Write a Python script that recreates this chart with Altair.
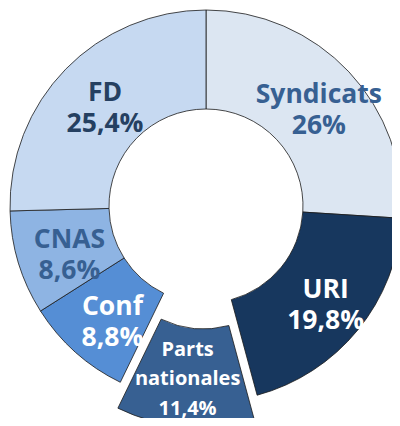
import math
import altair as alt
import pandas as pd

# ---- data ----
categories = ["Syndicats", "URI", "Parts nationales", "Conf", "CNAS", "FD"]
values = [26, 19.8, 11.4, 8.8, 8.6, 25.4]

# ---- styles ----
fill_colors = ["#DCE6F2", "#17375E", "#376092", "#558ED5", "#8EB4E3", "#C6D9F1"]
label_colors = ["#376092", "#FFFFFF", "#FFFFFF", "#FFFFFF", "#376092", "#254061"]
exploded = "Parts nationales"
explode_px = 26
outer_r = 196
inner_r = 97
label_r = 148
main_size, main_lh = 26.5, 31
ex_size, ex_lh = 20, 29.5
main_nudge = (5, 6)
ex_nudge = (-2, 0)

df = pd.DataFrame({"name": categories, "value": values, "order": list(range(len(categories)))})

# direction of the exploded slice (mid angle, clockwise from 12 o'clock)
idx = categories.index(exploded)
total = sum(values)
mid_frac = (sum(values[:idx]) + values[idx] / 2) / total
ang = 2 * math.pi * mid_frac
ex_dx = explode_px * math.sin(ang)
ex_dy = -explode_px * math.cos(ang)

theta_scale = alt.Scale(domain=[0, 100], range=[0, 2 * math.pi])

base = (
    alt.Chart(df)
    .transform_window(cum="sum(value)", sort=[{"field": "order"}], frame=[None, 0])
    .transform_calculate(
        start="datum.cum - datum.value",
        mid="datum.cum - datum.value / 2",
        label="replace(datum.name, ' ', '|') + '|' + replace(format(datum.value, '.1~f'), '.', ',') + '%'",
    )
)

fill_enc = alt.Color("name:N", scale=alt.Scale(domain=categories, range=fill_colors), legend=None)
text_enc = alt.Color("name:N", scale=alt.Scale(domain=categories, range=label_colors), legend=None)

arc_props = dict(outerRadius=outer_r, innerRadius=inner_r, stroke="#1a1a1a", strokeWidth=0.8)

arcs = base.transform_filter(f"datum.name != '{exploded}'").mark_arc(**arc_props).encode(
    theta=alt.Theta("start:Q", scale=theta_scale, stack=None),
    theta2="cum:Q",
    color=fill_enc,
)

arc_ex = base.transform_filter(f"datum.name == '{exploded}'").mark_arc(
    xOffset=ex_dx, yOffset=ex_dy, **arc_props
).encode(
    theta=alt.Theta("start:Q", scale=theta_scale, stack=None),
    theta2="cum:Q",
    color=fill_enc,
)

labels = base.transform_filter(f"datum.name != '{exploded}'").mark_text(
    radius=label_r, font="Open Sans", fontWeight="bold", fontSize=main_size,
    lineBreak="|", lineHeight=main_lh, align="center", baseline="middle",
    dx=main_nudge[0], dy=-main_lh / 2 + main_nudge[1],
).encode(
    theta=alt.Theta("mid:Q", scale=theta_scale, stack=None),
    text="label:N",
    color=text_enc,
)

label_ex = base.transform_filter(f"datum.name == '{exploded}'").mark_text(
    radius=label_r, font="Open Sans", fontWeight="bold", fontSize=ex_size,
    lineBreak="|", lineHeight=ex_lh, align="center", baseline="middle",
    dx=ex_dx + ex_nudge[0], dy=ex_dy - ex_lh + ex_nudge[1],
).encode(
    theta=alt.Theta("mid:Q", scale=theta_scale, stack=None),
    text="label:N",
    color=text_enc,
)

chart = (
    alt.layer(arcs, arc_ex, labels, label_ex)
    .resolve_scale(color="independent")
    .properties(
        width=372,
        height=396,
        padding={"left": 12, "top": 0, "right": 0, "bottom": 14},
        autosize="none",
        background="white",
    )
    .configure_view(stroke=None)
)

chart.save("out.html", embed_options={"renderer": "svg", "actions": False})
